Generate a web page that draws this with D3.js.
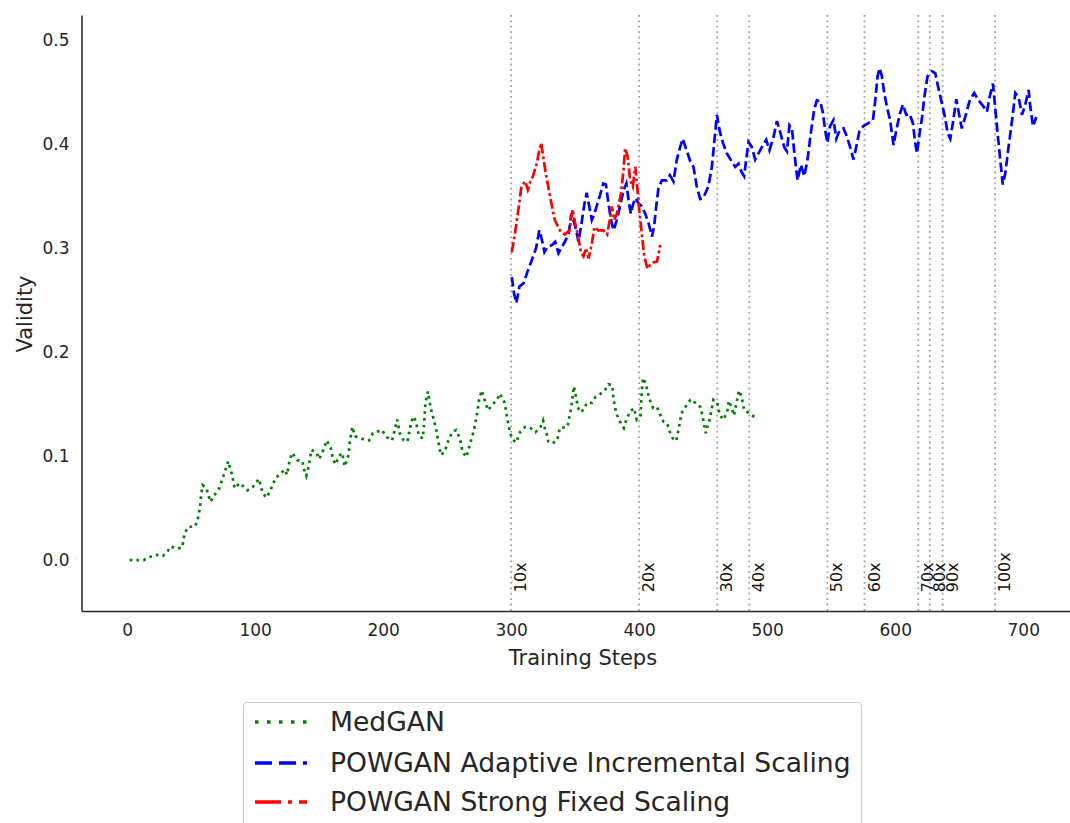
<!DOCTYPE html>
<html>
<head>
<meta charset="utf-8">
<script src="https://cdn.jsdelivr.net/npm/d3@7"></script>
<style>
  html, body { margin: 0; padding: 0; background: #ffffff; }
  svg { display: block; font-family: "DejaVu Sans", sans-serif; }
</style>
</head>
<body>
<svg id="chart" width="1070" height="823"></svg>
<script>
// ---------------- DATA ----------------
const medganSteps = [2,13,18,23,28,32,34,39,43,45,48,53,55,57,58,59,62,65,68,72,75,79,82,84,88,94,98,103,106,109,112,116,120,123,125,127,129,133,137,138,140,142,144,148,150,153,156,159,161,163,165,168,170,173,174,176,178,185,189,192,199,203,207,211,213,216,219,222,224,226,228,231,232,233,235,237,241,243,245,248,251,254,257,260,262,265,268,271,273,275,277,280,282,285,289,291,295,297,299,301,304,307,311,315,319,323,325,326,328,329,332,336,338,344,346,347,349,351,352,354,357,359,363,366,370,373,376,379,380,382,384,388,390,393,396,398,401,402,403,405,407,409,411,414,417,419,422,424,427,429,431,433,436,440,442,445,448,450,452,453,455,456,458,461,463,466,469,470,472,474,476,478,480,482,485,488,491];
const medganValues = [0.000,0.000,0.003,0.005,0.004,0.009,0.013,0.011,0.012,0.026,0.032,0.032,0.038,0.051,0.064,0.072,0.069,0.056,0.062,0.069,0.080,0.095,0.082,0.069,0.074,0.067,0.070,0.078,0.064,0.060,0.067,0.079,0.083,0.087,0.082,0.096,0.103,0.096,0.095,0.088,0.081,0.091,0.106,0.103,0.097,0.105,0.115,0.108,0.096,0.092,0.099,0.103,0.090,0.101,0.114,0.128,0.119,0.116,0.115,0.122,0.125,0.118,0.115,0.135,0.122,0.115,0.114,0.133,0.138,0.131,0.119,0.117,0.131,0.151,0.162,0.147,0.128,0.115,0.101,0.104,0.115,0.123,0.125,0.117,0.104,0.099,0.112,0.125,0.138,0.154,0.163,0.151,0.144,0.149,0.154,0.160,0.151,0.136,0.123,0.116,0.113,0.123,0.128,0.127,0.123,0.128,0.134,0.128,0.120,0.114,0.112,0.115,0.127,0.128,0.141,0.147,0.167,0.155,0.147,0.142,0.145,0.151,0.151,0.157,0.160,0.163,0.169,0.168,0.154,0.142,0.135,0.127,0.135,0.143,0.146,0.135,0.139,0.162,0.175,0.170,0.160,0.151,0.146,0.147,0.138,0.133,0.131,0.123,0.115,0.115,0.127,0.141,0.147,0.154,0.154,0.149,0.147,0.135,0.122,0.127,0.135,0.141,0.154,0.151,0.139,0.135,0.144,0.153,0.147,0.139,0.151,0.163,0.157,0.144,0.142,0.139,0.137];

const adaptiveSteps = [300.5,302.3,304,306.5,309.6,312.7,316,319.5,322,324,326,328.4,332,334.4,337,339.6,342,345,347,350,352.6,355,357.3,359,361,363,365,367,369.5,372,374,376,378,380,382.6,385,388,390,391.7,393.5,395,397,399.5,402,404.7,407.3,410,411.7,413.3,415,417.7,421.6,424,426.8,429.4,432,434,437,440,442.4,445,447.7,450,454,456.8,458.8,460.7,462.8,465.4,468.5,472.4,475,477.6,480,482,483.6,485.4,488,490.6,493.2,495.8,499.2,501.8,505,507.6,510,513.3,515.4,517.4,519.3,521,522.7,523.7,526.3,529,531.5,534,536.7,538.8,541.4,543.5,545.3,547,549,551.8,554,556.5,559.6,562.3,564.8,567.4,569.5,572,575,579,582.6,584.4,586.2,587.8,589.6,591.4,594,596,597.4,598.7,600.8,603.4,606,608.6,611.2,613.8,615.6,617,619,621,622.7,625.2,628.7,631.3,634,636.5,639,641,643,645,647.7,649.5,652,654.7,658,661.7,665,669,671.6,673.7,676.3,678,680,682,684,686,688.5,691,693.8,696.3,699,701.6,704.2,705.5,707.6,710.2];
const adaptiveValues = [0.272,0.256,0.247,0.263,0.266,0.277,0.288,0.300,0.317,0.308,0.296,0.301,0.303,0.306,0.295,0.301,0.306,0.314,0.333,0.321,0.306,0.324,0.343,0.353,0.340,0.327,0.333,0.341,0.351,0.362,0.361,0.343,0.327,0.317,0.327,0.340,0.356,0.362,0.346,0.333,0.341,0.348,0.343,0.340,0.333,0.324,0.311,0.321,0.340,0.357,0.365,0.365,0.370,0.364,0.385,0.397,0.405,0.394,0.383,0.378,0.359,0.347,0.348,0.359,0.378,0.404,0.428,0.413,0.401,0.391,0.383,0.378,0.381,0.373,0.369,0.385,0.402,0.397,0.385,0.391,0.397,0.404,0.394,0.407,0.422,0.412,0.397,0.393,0.418,0.415,0.394,0.375,0.365,0.380,0.369,0.385,0.410,0.433,0.442,0.441,0.430,0.413,0.401,0.417,0.423,0.405,0.413,0.415,0.407,0.397,0.385,0.397,0.412,0.417,0.420,0.423,0.442,0.465,0.473,0.465,0.449,0.433,0.423,0.410,0.399,0.413,0.428,0.438,0.428,0.429,0.420,0.401,0.391,0.410,0.426,0.445,0.465,0.470,0.468,0.452,0.439,0.425,0.410,0.405,0.420,0.443,0.431,0.415,0.426,0.441,0.449,0.442,0.436,0.431,0.445,0.458,0.436,0.410,0.385,0.361,0.372,0.397,0.420,0.449,0.445,0.428,0.438,0.452,0.436,0.417,0.426];

const fixedSteps = [300.5,303,306,308,311,313,315,317,320,322,323.5,325,327,330.5,334,338,342,345.5,348,350,352,354.5,356.5,358.5,360.5,363,365,368,372,375,377,378.7,380.5,382.6,385.7,387.8,389,391,393,395,397,398,400,402,404,406.5,408.6,411,414,416.4];
const fixedValues = [0.296,0.314,0.340,0.359,0.364,0.356,0.364,0.369,0.381,0.394,0.401,0.388,0.372,0.349,0.327,0.317,0.313,0.317,0.337,0.324,0.313,0.296,0.292,0.300,0.290,0.304,0.320,0.317,0.317,0.313,0.327,0.340,0.327,0.333,0.352,0.375,0.396,0.388,0.365,0.359,0.378,0.365,0.337,0.314,0.292,0.280,0.284,0.286,0.287,0.303];

const scaleSteps = [300, 400, 461, 486, 547, 576, 618, 627, 637, 678];
const scaleLabels = ["10x", "20x", "30x", "40x", "50x", "60x", "70x", "80x", "90x", "100x"];

const xTicks = [0, 100, 200, 300, 400, 500, 600, 700];
const yTicks = [0.0, 0.1, 0.2, 0.3, 0.4, 0.5];

const seriesNames = ["MedGAN", "POWGAN Adaptive Incremental Scaling", "POWGAN Strong Fixed Scaling"];
const seriesColors = ["#008000", "#0000ff", "#ff0000"];

// ---------------- LAYOUT ----------------
const svg = d3.select("#chart");
const textColor = "#262626";

const x = d3.scaleLinear().domain([-35.6, 747.6]).range([81.5, 1084.2]);
const y = d3.scaleLinear().domain([-0.049, 0.524]).range([611, 15]);

// vertical scale markers
const vg = svg.append("g");
vg.selectAll("line.v").data(scaleSteps).join("line")
  .attr("x1", d => x(d)).attr("x2", d => x(d))
  .attr("y1", y(0.524)).attr("y2", y(-0.049))
  .attr("stroke", "#a0a0a0").attr("stroke-width", 1.8)
  .attr("stroke-dasharray", "1.8,3.6");
vg.selectAll("text.v").data(scaleSteps).join("text")
  .attr("transform", d => `translate(${x(d) + 15},${y(-0.031)}) rotate(-90)`)
  .attr("font-size", 16).attr("fill", "#111")
  .text((d, i) => scaleLabels[i]);

// lines
const lineGen = d3.line().x(d => x(d[0])).y(d => y(d[1]));
const medgan = medganSteps.map((s, i) => [s, medganValues[i]]);
const adaptive = adaptiveSteps.map((s, i) => [s, adaptiveValues[i]]);
const fixed = fixedSteps.map((s, i) => [s, fixedValues[i]]);

svg.append("path").datum(medgan).attr("d", lineGen)
  .attr("fill", "none").attr("stroke", seriesColors[0]).attr("stroke-width", 2.7)
  .attr("stroke-dasharray", "2.7,4.1");
svg.append("path").datum(adaptive).attr("d", lineGen)
  .attr("fill", "none").attr("stroke", seriesColors[1]).attr("stroke-width", 2.7)
  .attr("stroke-dasharray", "9.5,4");
svg.append("path").datum(fixed).attr("d", lineGen)
  .attr("fill", "none").attr("stroke", seriesColors[2]).attr("stroke-width", 2.7)
  .attr("stroke-dasharray", "10,3,2.7,3");

// axes
const xAxis = svg.append("g").attr("transform", `translate(0,${y(-0.049)})`)
  .call(d3.axisBottom(x).tickValues(xTicks).tickSize(0).tickPadding(13).tickFormat(d3.format("d")));
const yAxis = svg.append("g").attr("transform", `translate(${x(-35.6)},0)`)
  .call(d3.axisLeft(y).tickValues(yTicks).tickSize(0).tickPadding(12).tickFormat(d3.format(".1f")));
[xAxis, yAxis].forEach(a => {
  a.select(".domain").attr("stroke", textColor).attr("stroke-width", 1.5);
  a.selectAll("text").attr("font-size", 17).attr("fill", textColor).attr("font-family", "DejaVu Sans");
});

svg.append("text").attr("x", 583).attr("y", 665).attr("text-anchor", "middle")
  .attr("font-size", 21).attr("fill", textColor).text("Training Steps");
svg.append("text").attr("transform", "translate(32,314) rotate(-90)").attr("text-anchor", "middle")
  .attr("font-size", 21).attr("fill", textColor).text("Validity");

// legend
const lg = svg.append("g");
lg.append("rect").attr("x", 243.5).attr("y", 702.5).attr("width", 618).attr("height", 140)
  .attr("rx", 4).attr("fill", "#fff").attr("stroke", "#cccccc").attr("stroke-width", 1.2);
const legendDash = ["3.5,8.5", "17,7", "26,7,4,7"];
const rowY = [722, 763, 802];
seriesNames.forEach((name, i) => {
  lg.append("line").attr("x1", 255).attr("x2", 307).attr("y1", rowY[i]).attr("y2", rowY[i])
    .attr("stroke", seriesColors[i]).attr("stroke-width", 3.5).attr("stroke-dasharray", legendDash[i]);
  lg.append("text").attr("x", 330).attr("y", rowY[i]).attr("dy", "0.35em")
    .attr("font-size", 26.6).attr("fill", textColor).text(name);
});
</script>
</body>
</html>
